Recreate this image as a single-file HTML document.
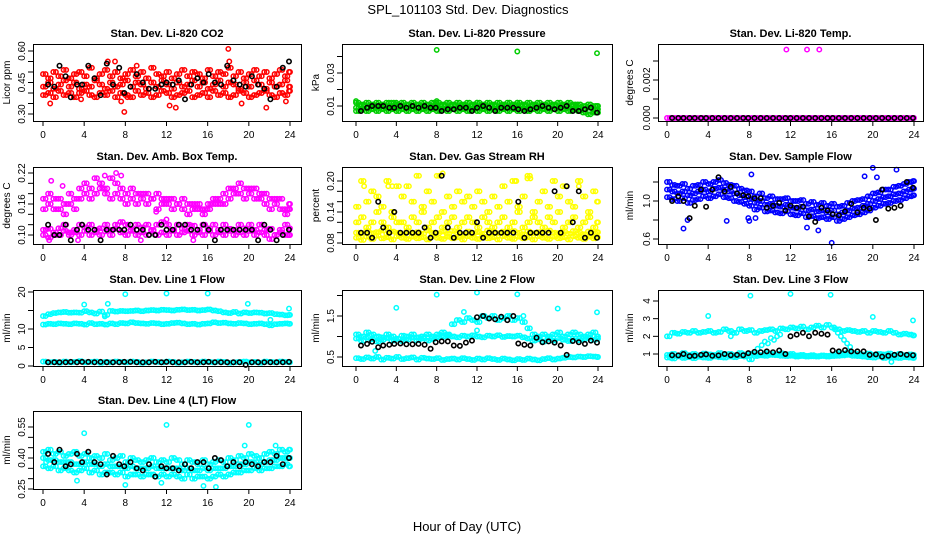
<!DOCTYPE html>
<html><head><meta charset="utf-8">
<style>
html,body{margin:0;padding:0;background:#fff;}
svg{display:block;font-family:"Liberation Sans",Arial,sans-serif;}
</style></head>
<body>
<svg id="chart" width="936" height="540" viewBox="0 0 936 540" xmlns="http://www.w3.org/2000/svg">
<rect width="936" height="540" fill="#fff"/>
<text x="468" y="14" font-size="13" text-anchor="middle">SPL_101103  Std. Dev. Diagnostics</text>
<text x="467" y="531" font-size="13" text-anchor="middle">Hour of Day (UTC)</text>
<g id="panels"></g>
</svg>
<script>
// ---- shared hour categories ----
const hoursMain = [0,0.5,1,1.5,2,2.5,3,3.5,4,4.5,5,5.5,6,6.5,7,7.5,8,8.5,9,9.5,10,10.5,11,11.5,12,12.5,13,13.5,14,14.5,15,15.5,16,16.5,17,17.5,18,18.5,19,19.5,20,20.5,21,21.5,22,22.5,23,23.5,24];
const hoursOffset = [0.25,0.75,1.25,1.75,2.25,2.75,3.25,3.75,4.25,4.75,5.25,5.75,6.25,6.75,7.25,7.75,8.25,8.75,9.25,9.75,10.25,10.75,11.25,11.75,12.25,12.75,13.25,13.75,14.25,14.75,15.25,15.75,16.25,16.75,17.25,17.75,18.25,18.75,19.25,19.75,20.25,20.75,21.25,21.75,22.25,22.75,23.25,23.75,23.9];
const hoursBlack = [0.5,1.1,1.6,2.2,2.7,3.3,3.8,4.4,5.0,5.6,6.2,6.8,7.4,7.9,8.5,9.1,9.7,10.3,10.9,11.5,12.0,12.6,13.2,13.8,14.4,15.0,15.6,16.1,16.7,17.3,17.9,18.5,19.1,19.7,20.3,20.9,21.5,22.1,22.7,23.3,23.9];
const xTickLabels = ["0","4","8","12","16","20","24"];

// ---- Panel 1: Li-820 CO2 ----
const co2Upper = [0.49,0.47,0.50,0.48,0.51,0.47,0.49,0.50,0.48,0.52,0.47,0.49,0.51,0.48,0.50,0.47,0.49,0.51,0.48,0.50,0.47,0.52,0.49,0.48,0.50,0.47,0.49,0.51,0.48,0.50,0.49,0.47,0.51,0.48,0.50,0.49,0.52,0.48,0.50,0.47,0.49,0.51,0.48,0.50,0.47,0.49,0.51,0.48,0.50];
const co2Mid = [0.43,0.45,0.42,0.44,0.46,0.43,0.45,0.42,0.44,0.43,0.46,0.44,0.42,0.45,0.43,0.44,0.46,0.43,0.45,0.44,0.42,0.45,0.43,0.46,0.44,0.42,0.45,0.43,0.44,0.46,0.43,0.45,0.42,0.44,0.46,0.43,0.45,0.44,0.42,0.45,0.43,0.46,0.44,0.42,0.45,0.43,0.44,0.46,0.43];
const co2Lower = [0.39,0.40,0.38,0.41,0.39,0.40,0.38,0.40,0.41,0.39,0.38,0.40,0.39,0.41,0.38,0.40,0.39,0.38,0.41,0.39,0.40,0.38,0.39,0.41,0.40,0.38,0.39,0.40,0.41,0.38,0.39,0.40,0.38,0.41,0.39,0.40,0.38,0.39,0.41,0.40,0.38,0.39,0.40,0.41,0.39,0.38,0.40,0.39,0.41];
const co2OutHours = [0.7,3.7,7.6,7.9,8.2,12.3,12.9,18.0,18.1,19.3,21.7,23.6,6.3,7.0,9.1];
const co2OutValues = [0.35,0.37,0.36,0.31,0.38,0.34,0.33,0.61,0.55,0.35,0.33,0.36,0.55,0.55,0.53];
const co2Black = [0.44,0.43,0.53,0.48,0.38,0.44,0.44,0.53,0.47,0.39,0.54,0.44,0.52,0.40,0.43,0.49,0.45,0.42,0.42,0.44,0.45,0.44,0.46,0.37,0.44,0.47,0.45,0.49,0.45,0.44,0.53,0.46,0.44,0.43,0.48,0.44,0.42,0.37,0.43,0.52,0.55];

// ---- Panel 2: Li-820 Pressure ----
const presUpper = [0.012,0.011,0.012,0.011,0.012,0.011,0.012,0.012,0.011,0.012,0.011,0.012,0.011,0.012,0.011,0.012,0.012,0.011,0.012,0.011,0.012,0.011,0.012,0.011,0.012,0.011,0.012,0.011,0.012,0.011,0.012,0.011,0.012,0.011,0.012,0.011,0.012,0.011,0.012,0.011,0.012,0.011,0.012,0.011,0.011,0.010,0.011,0.010,0.010];
const presMid = [0.009,0.010,0.009,0.010,0.009,0.010,0.009,0.010,0.009,0.010,0.009,0.010,0.009,0.010,0.009,0.010,0.009,0.010,0.009,0.010,0.009,0.010,0.009,0.010,0.009,0.010,0.009,0.010,0.009,0.010,0.009,0.010,0.009,0.010,0.009,0.010,0.009,0.010,0.009,0.010,0.009,0.010,0.009,0.010,0.009,0.008,0.009,0.008,0.008];
const presLower = [0.007,0.008,0.007,0.008,0.007,0.008,0.007,0.008,0.007,0.008,0.007,0.008,0.007,0.008,0.007,0.008,0.007,0.008,0.007,0.008,0.007,0.008,0.007,0.008,0.007,0.008,0.007,0.008,0.007,0.008,0.007,0.008,0.007,0.008,0.007,0.008,0.007,0.008,0.007,0.008,0.007,0.008,0.007,0.008,0.007,0.006,0.005,0.006,0.006];
const presOutHours = [8.0,16.0,23.9,0.0,8.0,4.0,12.0,16.0];
const presOutValues = [0.044,0.043,0.042,0.013,0.013,0.012,0.012,0.012];
const presBlack = [0.007,0.009,0.010,0.010,0.010,0.009,0.009,0.010,0.009,0.010,0.009,0.010,0.009,0.009,0.007,0.008,0.008,0.009,0.009,0.007,0.009,0.010,0.009,0.007,0.009,0.009,0.009,0.008,0.007,0.008,0.009,0.010,0.009,0.008,0.009,0.010,0.007,0.007,0.008,0.009,0.006];

// ---- Panel 3: Li-820 Temp ----
const tempRow = [0,0,0,0,0,0,0,0,0,0,0,0,0,0,0,0,0,0,0,0,0,0,0,0,0,0,0,0,0,0,0,0,0,0,0,0,0,0,0,0,0,0,0,0,0,0,0,0,0];
const tempOutHours = [11.6,13.6,14.8];
const tempOutValues = [0.0036,0.0036,0.0036];
const tempBlack = [0,0,0,0,0,0,0,0,0,0,0,0,0,0,0,0,0,0,0,0,0,0,0,0,0,0,0,0,0,0,0,0,0,0,0,0,0,0,0,0,0];

// ---- Panel 4: Amb. Box Temp ----
const boxUpper = [0.15,0.18,0.17,0.15,0.16,0.18,0.17,0.19,0.20,0.19,0.21,0.20,0.19,0.21,0.20,0.19,0.18,0.19,0.18,0.17,0.18,0.17,0.18,0.17,0.16,0.17,0.16,0.17,0.16,0.15,0.16,0.15,0.16,0.17,0.16,0.18,0.19,0.18,0.20,0.19,0.18,0.19,0.17,0.18,0.17,0.16,0.17,0.15,0.16];
const boxUpper2 = [0.17,0.16,0.15,0.17,0.14,0.16,0.15,0.17,0.18,0.17,0.18,0.19,0.18,0.17,0.18,0.17,0.16,0.17,0.16,0.18,0.16,0.17,0.15,0.16,0.17,0.15,0.16,0.15,0.14,0.16,0.15,0.14,0.15,0.16,0.17,0.16,0.17,0.19,0.18,0.17,0.19,0.17,0.18,0.16,0.15,0.17,0.15,0.14,0.15];
const boxLower = [0.11,0.112,0.10,0.113,0.12,0.105,0.11,0.12,0.115,0.12,0.11,0.113,0.12,0.11,0.12,0.125,0.12,0.11,0.12,0.115,0.12,0.11,0.12,0.125,0.12,0.11,0.12,0.112,0.12,0.118,0.11,0.12,0.113,0.12,0.11,0.12,0.112,0.11,0.12,0.113,0.12,0.11,0.12,0.11,0.112,0.10,0.11,0.12,0.113];
const boxLower2 = [0.10,0.095,0.105,0.10,0.108,0.10,0.105,0.10,0.108,0.10,0.105,0.10,0.107,0.10,0.112,0.105,0.10,0.108,0.10,0.105,0.10,0.108,0.10,0.105,0.10,0.108,0.10,0.105,0.108,0.10,0.105,0.10,0.108,0.10,0.105,0.10,0.108,0.10,0.105,0.10,0.108,0.10,0.105,0.10,0.092,0.10,0.105,0.10,0.10];
const boxOutHours = [0.8,1.9,6.0,7.1,7.6,11.0,0.6,3.4,9.5,14.6,12.0];
const boxOutValues = [0.205,0.195,0.215,0.22,0.215,0.145,0.09,0.09,0.09,0.09,0.13];
const boxBlack = [0.12,0.10,0.10,0.12,0.09,0.11,0.12,0.11,0.11,0.09,0.11,0.11,0.11,0.11,0.12,0.11,0.11,0.10,0.10,0.12,0.11,0.11,0.12,0.12,0.11,0.11,0.12,0.11,0.09,0.11,0.11,0.11,0.11,0.11,0.11,0.09,0.12,0.11,0.09,0.10,0.11];

// ---- Panel 5: Gas Stream RH ----
const rhHigh = [0.15,0.20,0.16,0.18,0.17,0.15,0.20,0.14,0.19,0.17,0.19,0.16,0.21,0.15,0.18,0.16,0.21,0.14,0.17,0.15,0.18,0.16,0.17,0.15,0.18,0.16,0.14,0.17,0.15,0.19,0.16,0.20,0.15,0.17,0.21,0.14,0.16,0.18,0.15,0.20,0.17,0.19,0.16,0.15,0.20,0.17,0.14,0.18,0.16];
const rhMid = [0.12,0.13,0.11,0.12,0.14,0.12,0.11,0.13,0.12,0.12,0.11,0.13,0.12,0.14,0.11,0.12,0.13,0.11,0.12,0.13,0.11,0.12,0.13,0.12,0.11,0.13,0.12,0.11,0.12,0.13,0.11,0.12,0.14,0.11,0.12,0.13,0.12,0.11,0.13,0.12,0.14,0.11,0.12,0.13,0.11,0.12,0.13,0.11,0.12];
const rhLow = [0.090,0.086,0.092,0.088,0.094,0.089,0.091,0.087,0.093,0.090,0.088,0.092,0.089,0.091,0.087,0.093,0.090,0.088,0.092,0.089,0.091,0.087,0.093,0.090,0.088,0.092,0.089,0.091,0.087,0.093,0.090,0.088,0.092,0.089,0.091,0.087,0.093,0.090,0.088,0.092,0.089,0.091,0.087,0.093,0.090,0.088,0.092,0.089,0.091];
const rhLow2 = [0.100,0.098,0.103,0.099,0.101,0.104,0.098,0.102,0.100,0.097,0.103,0.099,0.101,0.098,0.104,0.100,0.099,0.102,0.098,0.103,0.100,0.097,0.102,0.099,0.101,0.098,0.104,0.100,0.099,0.102,0.098,0.103,0.100,0.097,0.102,0.099,0.101,0.098,0.104,0.100,0.099,0.102,0.098,0.103,0.100,0.097,0.102,0.099,0.101];
const rhOutHours = [8.6,0.8,3.2,3.6,15.9,17.0,17.3,22.1];
const rhOutValues = [0.215,0.19,0.19,0.19,0.20,0.205,0.205,0.19];
const rhBlack = [0.10,0.10,0.09,0.16,0.11,0.10,0.14,0.10,0.10,0.10,0.10,0.11,0.09,0.10,0.21,0.11,0.09,0.10,0.10,0.10,0.12,0.09,0.10,0.10,0.10,0.10,0.10,0.16,0.09,0.10,0.10,0.10,0.10,0.18,0.10,0.19,0.12,0.18,0.09,0.10,0.09];

// ---- Panel 6: Sample Flow ----
const flowCenter = [1.12,1.10,1.08,1.10,1.06,1.08,1.10,1.12,1.10,1.13,1.14,1.12,1.10,1.08,1.06,1.04,1.02,0.98,1.00,0.96,0.97,0.95,0.94,0.96,0.93,0.92,0.94,0.90,0.91,0.89,0.90,0.88,0.90,0.86,0.88,0.90,0.92,0.93,0.95,0.97,1.00,1.02,1.04,1.05,1.07,1.08,1.10,1.12,1.13];
const flowUpper = [1.20,1.17,1.16,1.18,1.13,1.16,1.17,1.20,1.18,1.20,1.22,1.19,1.17,1.16,1.13,1.11,1.10,1.05,1.08,1.03,1.05,1.02,1.02,1.03,1.00,1.00,1.01,0.97,0.99,0.96,0.98,0.95,0.97,0.94,0.95,0.98,1.00,1.01,1.02,1.05,1.08,1.09,1.12,1.12,1.15,1.16,1.18,1.20,1.21];
const flowLower = [1.04,1.02,1.00,1.03,0.98,1.01,1.02,1.05,1.03,1.05,1.07,1.04,1.03,1.00,0.99,0.97,0.95,0.91,0.93,0.89,0.90,0.88,0.87,0.89,0.86,0.85,0.87,0.83,0.84,0.82,0.83,0.81,0.83,0.79,0.81,0.83,0.85,0.86,0.88,0.90,0.93,0.95,0.97,0.98,1.00,1.01,1.03,1.05,1.06];
const flowOutHours = [1.6,2.0,5.8,8.0,7.9,8.6,13.6,14.7,16.0,20.0,22.3,8.2,19.2,20.4];
const flowOutValues = [0.71,0.80,0.79,0.79,0.82,0.82,0.72,0.69,0.56,1.35,1.33,1.28,1.26,1.25];
const flowBlack = [1.00,1.05,1.00,0.82,0.95,1.12,0.94,1.12,1.25,1.10,1.15,1.08,1.06,1.05,1.03,1.03,0.93,0.95,0.98,0.90,0.95,0.93,0.94,0.84,0.78,0.93,0.90,0.86,0.85,0.89,0.97,0.88,0.93,0.92,0.80,1.12,0.92,0.93,0.95,1.20,1.14];

// ---- Panel 7: Line 1 Flow ----
const l1Top = [13.5,14.0,14.3,14.5,14.6,14.4,14.5,14.4,14.8,14.5,14.2,14.7,13.8,14.9,14.7,14.9,14.8,14.9,15.0,14.8,15.0,15.1,15.0,15.2,15.1,15.0,15.2,15.3,15.1,15.2,15.0,15.1,15.3,15.0,14.8,14.5,14.3,14.6,14.2,14.5,14.3,14.5,14.4,14.2,14.3,14.0,13.9,13.7,13.8];
const l1Mid = [11.2,11.4,11.3,11.5,11.4,11.3,11.5,11.4,11.2,11.6,11.3,11.4,11.2,11.5,11.3,11.6,11.5,11.8,11.6,11.5,11.4,11.6,11.5,11.3,11.4,11.6,11.7,11.5,11.3,11.4,11.2,11.4,11.5,11.8,11.6,11.7,11.5,11.4,11.6,11.5,11.3,11.4,11.5,11.3,11.0,11.3,11.4,11.5,11.4];
const l1Low = [1.2,1.0,1.1,0.9,1.2,1.0,1.1,1.3,1.0,1.1,1.2,0.9,1.1,1.0,1.2,1.1,1.0,1.2,1.1,0.9,1.0,1.2,1.1,1.0,1.2,1.1,0.9,1.0,1.2,1.1,1.0,1.2,1.1,1.0,1.2,1.1,0.9,1.0,1.1,1.2,1.0,1.1,0.9,1.2,1.1,1.0,1.2,1.1,1.0];
const l1OutHours = [8.0,12.0,16.0,4.0,6.3,19.9,23.9,6.0,22.1];
const l1OutValues = [19.4,19.6,19.6,16.6,16.8,16.8,15.5,13.4,12.5];
const l1Black = [1.0,1.0,1.0,1.0,1.1,1.0,1.1,1.1,1.0,1.1,1.0,1.0,1.0,1.1,1.1,1.0,1.0,1.0,1.1,1.0,1.1,1.0,1.0,1.0,1.1,1.0,1.0,1.1,1.0,1.0,1.0,1.0,1.0,0.3,1.0,1.0,1.0,1.0,1.0,1.0,1.1];

// ---- Panel 8: Line 2 Flow ----
const l2RowA = [1.05,1.00,1.10,1.05,1.00,0.98,1.05,1.00,0.95,1.02,1.00,1.05,0.98,1.00,1.05,1.00,1.05,1.10,1.05,1.30,1.40,1.35,1.45,1.40,1.35,1.50,1.45,1.50,1.40,1.45,1.50,1.40,1.45,1.35,1.20,1.05,1.00,1.05,1.00,1.05,1.10,1.00,1.05,1.10,1.05,1.00,1.05,1.10,1.00];
const l2RowB = [0.95,0.90,0.97,0.93,0.88,0.92,0.96,0.90,0.94,0.89,0.93,0.97,0.91,0.95,0.90,0.94,0.98,1.00,1.02,1.00,0.98,1.02,1.00,1.03,1.00,0.98,1.02,1.00,1.03,0.99,1.01,1.00,1.02,0.98,0.95,0.90,0.93,0.88,0.94,0.90,0.96,0.92,0.89,0.95,0.91,0.94,0.97,0.92,0.95];
const l2RowC = [0.47,0.45,0.49,0.46,0.50,0.44,0.48,0.46,0.50,0.45,0.47,0.49,0.44,0.48,0.46,0.45,0.47,0.43,0.45,0.46,0.44,0.47,0.45,0.43,0.46,0.44,0.47,0.45,0.43,0.46,0.44,0.42,0.45,0.43,0.46,0.44,0.42,0.45,0.47,0.44,0.46,0.48,0.50,0.49,0.51,0.50,0.52,0.51,0.50];
const l2OutHours = [4.0,8.0,12.0,16.0,20.0,23.9,10.7,1.9,12.0,16.6];
const l2OutValues = [1.70,2.02,2.07,2.03,1.68,1.59,1.60,0.65,1.15,1.50];
const l2Black = [0.78,0.82,0.87,0.74,0.78,0.80,0.82,0.83,0.81,0.81,0.82,0.80,0.70,0.86,0.88,0.88,0.78,0.77,0.85,0.90,1.47,1.50,1.44,1.42,1.48,1.40,1.50,0.83,0.80,0.78,0.97,0.86,0.88,0.85,0.78,0.55,0.89,0.86,0.82,0.90,0.85];

// ---- Panel 9: Line 3 Flow ----
const l3Upper = [2.00,2.20,2.15,2.25,2.20,2.30,2.20,2.25,2.30,2.20,2.25,2.40,2.30,2.20,2.40,2.30,2.35,2.20,2.30,2.35,2.40,2.30,2.45,2.40,2.50,2.45,2.55,2.40,2.50,2.60,2.50,2.65,2.50,2.40,2.30,2.35,2.30,2.25,2.30,2.20,2.30,2.25,2.20,2.30,2.20,2.10,2.15,2.10,2.05];
const l3Lower = [0.95,1.00,0.90,1.05,0.95,1.00,0.92,1.02,0.98,0.95,1.05,0.97,1.00,0.93,1.05,0.98,1.02,1.00,0.95,1.05,1.00,0.97,1.03,0.98,1.00,0.92,0.95,0.90,0.93,0.88,0.92,0.90,0.95,1.05,1.00,1.10,1.05,1.00,0.98,1.02,0.95,1.00,0.97,1.02,0.95,1.00,0.93,0.97,0.95];
const l3Lower2 = [0.80,0.75,0.85,0.78,0.82,0.76,0.84,0.80,0.78,0.85,0.82,0.80,0.86,0.82,0.88,0.85,0.70,0.88,0.92,0.90,0.95,0.93,0.90,0.88,0.90,0.86,0.88,0.85,0.87,0.86,0.88,0.85,0.88,0.90,0.92,0.95,0.90,0.88,0.85,0.82,0.80,0.85,0.78,0.82,0.80,0.78,0.82,0.80,0.78];
const l3OutHours = [4.0,8.1,12.0,15.9,20.0,23.9,21.8,8.8,9.2,9.5,9.8,10.1,10.4,10.7,11.0,16.3,16.6,16.9,17.2,17.5,17.8,6.2,6.5];
const l3OutValues = [3.15,4.30,4.40,4.35,3.10,2.90,0.55,1.30,1.50,1.70,1.60,1.90,1.80,2.00,2.10,2.40,2.20,2.00,1.80,1.60,1.40,2.00,2.20];
const l3Black = [0.93,0.92,1.00,0.88,0.90,0.95,0.98,0.90,0.92,1.00,0.93,0.95,0.93,1.05,1.12,1.10,1.15,1.10,1.20,1.00,2.00,2.10,2.20,2.00,2.20,2.15,2.10,1.20,1.15,1.22,1.15,1.15,1.15,0.95,0.98,0.85,0.90,0.95,1.00,0.95,0.93];

// ---- Panel 10: Line 4 (LT) Flow ----
const l4Center = [0.40,0.39,0.39,0.38,0.38,0.38,0.37,0.37,0.38,0.37,0.37,0.36,0.37,0.36,0.36,0.36,0.35,0.36,0.35,0.35,0.35,0.36,0.35,0.35,0.35,0.35,0.35,0.34,0.35,0.34,0.34,0.35,0.34,0.35,0.35,0.35,0.36,0.36,0.37,0.37,0.38,0.38,0.37,0.38,0.39,0.39,0.40,0.40,0.40];
const l4Upper = [0.43,0.44,0.42,0.43,0.41,0.42,0.43,0.41,0.42,0.40,0.41,0.40,0.42,0.39,0.40,0.41,0.38,0.40,0.39,0.38,0.39,0.40,0.38,0.39,0.38,0.40,0.39,0.37,0.39,0.38,0.37,0.39,0.37,0.38,0.39,0.38,0.40,0.39,0.41,0.40,0.42,0.41,0.40,0.42,0.43,0.42,0.44,0.43,0.44];
const l4Lower = [0.36,0.35,0.36,0.34,0.35,0.34,0.33,0.34,0.35,0.33,0.34,0.32,0.33,0.33,0.32,0.33,0.31,0.32,0.32,0.31,0.32,0.32,0.31,0.32,0.31,0.32,0.31,0.30,0.32,0.30,0.31,0.31,0.30,0.31,0.32,0.31,0.32,0.33,0.33,0.34,0.34,0.35,0.34,0.35,0.35,0.36,0.36,0.37,0.36];
const l4OutHours = [4.0,12.0,20.0,0.3,3.3,8.0,11.5,15.6,16.8,19.6,22.6];
const l4OutValues = [0.52,0.56,0.56,0.38,0.29,0.27,0.28,0.265,0.26,0.46,0.46];
const l4Black = [0.42,0.38,0.44,0.36,0.37,0.42,0.38,0.43,0.38,0.37,0.32,0.41,0.37,0.36,0.38,0.35,0.34,0.37,0.31,0.36,0.35,0.35,0.34,0.37,0.35,0.38,0.38,0.35,0.40,0.39,0.36,0.38,0.36,0.38,0.37,0.36,0.38,0.38,0.41,0.37,0.40];

const panels = [
 {name:"co2",title:"Stan. Dev. Li-820 CO2",ylab:"Licor ppm",col:0,row:0,color:"#ff0000",ya:[0.60,51],yb:[0.30,114],ticks:[0.30,0.35,0.40,0.45,0.50,0.55,0.60],labels:["0.30","0.45","0.60"],labelVals:[0.30,0.45,0.60],rows:[co2Upper,co2Mid,co2Lower],outH:co2OutHours,outV:co2OutValues,black:co2Black},
 {name:"pressure",title:"Stan. Dev. Li-820 Pressure",ylab:"kPa",col:1,row:0,color:"#00cd00",ya:[0.03,73],yb:[0.01,106],ticks:[0.01,0.02,0.03,0.04],labels:["0.01","0.03"],labelVals:[0.01,0.03],rows:[presUpper,presMid,presLower],outH:presOutHours,outV:presOutValues,black:presBlack},
 {name:"licor-temp",title:"Stan. Dev. Li-820 Temp.",ylab:"degrees C",col:2,row:0,color:"#ff00ff",ya:[0.002,80],yb:[0,118],ticks:[0,0.001,0.002,0.003],labels:["0.000","0.002"],labelVals:[0,0.002],rows:[tempRow],outH:tempOutHours,outV:tempOutValues,black:tempBlack},
 {name:"box-temp",title:"Stan. Dev. Amb. Box Temp.",ylab:"degrees C",col:0,row:1,color:"#ff00ff",ya:[0.22,173],yb:[0.10,235],ticks:[0.10,0.12,0.14,0.16,0.18,0.20,0.22],labels:["0.10","0.16","0.22"],labelVals:[0.10,0.16,0.22],rows:[boxUpper,boxUpper2,boxLower,boxLower2],outH:boxOutHours,outV:boxOutValues,black:boxBlack},
 {name:"rh",title:"Stan. Dev. Gas Stream RH",ylab:"percent",col:1,row:1,color:"#ffff00",ya:[0.20,181],yb:[0.08,243],ticks:[0.08,0.10,0.12,0.14,0.16,0.18,0.20],labels:["0.08","0.14","0.20"],labelVals:[0.08,0.14,0.20],rows:[rhHigh,rhMid,rhLow,rhLow2],outH:rhOutHours,outV:rhOutValues,black:rhBlack},
 {name:"sample-flow",title:"Stan. Dev. Sample Flow",ylab:"ml/min",col:2,row:1,color:"#0000ff",ya:[1.0,201],yb:[0.6,239],ticks:[0.6,0.8,1.0,1.2],labels:["0.6","1.0"],labelVals:[0.6,1.0],rows:[flowUpper,flowCenter,flowLower],outH:flowOutHours,outV:flowOutValues,black:flowBlack},
 {name:"line1-flow",title:"Stan. Dev. Line 1 Flow",ylab:"ml/min",col:0,row:2,color:"#00ffff",ya:[20,292],yb:[0,366],ticks:[0,5,10,15,20],labels:["0","5","10","20"],labelVals:[0,5,10,20],rows:[l1Top,l1Mid,l1Low],outH:l1OutHours,outV:l1OutValues,black:l1Black},
 {name:"line2-flow",title:"Stan. Dev. Line 2 Flow",ylab:"ml/min",col:1,row:2,color:"#00ffff",ya:[1.5,316],yb:[0.5,357],ticks:[0.5,1.0,1.5,2.0],labels:["0.5","1.5"],labelVals:[0.5,1.5],rows:[l2RowA,l2RowB,l2RowC],outH:l2OutHours,outV:l2OutValues,black:l2Black},
 {name:"line3-flow",title:"Stan. Dev. Line 3 Flow",ylab:"ml/min",col:2,row:2,color:"#00ffff",ya:[4,301],yb:[1,354],ticks:[1,2,3,4],labels:["1","2","3","4"],labelVals:[1,2,3,4],rows:[l3Upper,l3Lower,l3Lower2],outH:l3OutHours,outV:l3OutValues,black:l3Black},
 {name:"line4-flow",title:"Stan. Dev. Line 4 (LT) Flow",ylab:"ml/min",col:0,row:3,color:"#00ffff",ya:[0.55,427],yb:[0.25,489],ticks:[0.25,0.30,0.35,0.40,0.45,0.50,0.55],labels:["0.25","0.40","0.55"],labelVals:[0.25,0.40,0.55],rows:[l4Upper,l4Center,l4Lower],outH:l4OutHours,outV:l4OutValues,black:l4Black}
];

const colBox = [[33,301],[342,612],[658,923]];
const colX = [[43,290],[356,598],[667,914]];
const rowBox = [[44,121],[167,244],[290,366],[411,489]];
const ylabX = [10,319,633];
const R = 2.2;
const NS = "http://www.w3.org/2000/svg";
const root = document.getElementById("panels");
function mk(tag, attrs, parent){
  const e = document.createElementNS(NS, tag);
  for (const k in attrs) e.setAttribute(k, attrs[k]);
  parent.appendChild(e);
  return e;
}
panels.forEach(p => {
  const g = mk("g", {}, root);
  
  
  const [bx0,bx1] = colBox[p.col], [by0,by1] = rowBox[p.row];
  const [x0,x24] = colX[p.col];
  const xs = h => x0 + (x24 - x0) * h / 24;
  const ys = v => p.ya[1] + (p.yb[1] - p.ya[1]) * (v - p.ya[0]) / (p.yb[0] - p.ya[0]);
  const cx = (bx0 + bx1) / 2;
  const t = mk("text", {x:cx, y:by0-7, "font-size":"11", "font-weight":"bold", "text-anchor":"middle"}, g);
  t.textContent = p.title;
  
  
  const yl = mk("text", {transform:`translate(${ylabX[p.col]},${(by0+by1)/2}) rotate(-90)`, "font-size":"10", "text-anchor":"middle"}, g);
  yl.textContent = p.ylab;
  
  
  // points
  const pts = mk("g", {fill:"none", stroke:p.color, "stroke-width":"1.5"}, g);
  
  
  const n = p.rows.length;
  p.rows.forEach((r, j) => {
    const r2 = p.rows[(j + 1) % n];
    for (let i = 0; i < Math.min(r.length, hoursMain.length); i++) {
      const c = mk("circle", {cx:xs(hoursMain[i]).toFixed(1), cy:ys(r[i]).toFixed(1), r:R}, pts);
      
      
    }
    for (let i = 0; i < Math.min(r2.length, hoursOffset.length); i++) {
      const c = mk("circle", {cx:xs(hoursOffset[i]).toFixed(1), cy:ys(r2[i]).toFixed(1), r:R}, pts);
      
      
    }
  });
  for (let i = 0; i < Math.min(p.outH.length, p.outV.length); i++) {
    const c = mk("circle", {cx:xs(p.outH[i]).toFixed(1), cy:ys(p.outV[i]).toFixed(1), r:R}, pts);
    
    
  }
  const bp = mk("g", {fill:"none", stroke:"#000", "stroke-width":"1.6"}, g);
  
  
  for (let i = 0; i < Math.min(p.black.length, hoursBlack.length); i++) {
    const c = mk("circle", {cx:xs(hoursBlack[i]).toFixed(1), cy:ys(p.black[i]).toFixed(1), r:R}, bp);
    
    
  }
  // box
  const b = mk("rect", {x:bx0+0.5, y:by0+0.5, width:bx1-bx0, height:by1-by0, fill:"none", stroke:"#000", "stroke-width":"1"}, g);
  
  
  // x axis
  const xa = mk("g", {stroke:"#000", "stroke-width":"1"}, g);
  
  
  mk("line", {x1:xs(0), x2:xs(24), y1:by1+0.5, y2:by1+0.5}, xa);
  xTickLabels.forEach(lab => {
    const h = parseFloat(lab), X = xs(h);
    mk("line", {x1:X, x2:X, y1:by1, y2:by1+5}, xa);
    const tx = mk("text", {x:X, y:by1+17, "font-size":"10", "text-anchor":"middle", stroke:"none"}, xa);
    tx.textContent = lab;
    
    
  });
  // y axis
  const ya = mk("g", {stroke:"#000", "stroke-width":"1"}, g);
  
  
  mk("line", {x1:bx0+0.5, x2:bx0+0.5, y1:ys(p.ticks[0]), y2:ys(p.ticks[p.ticks.length-1])}, ya);
  p.ticks.forEach(v => { const Y = ys(v); mk("line", {x1:bx0-5, x2:bx0, y1:Y, y2:Y}, ya); });
  p.labels.forEach((lab, i) => {
    const Y = ys(p.labelVals[i]);
    const tx = mk("text", {transform:`translate(${bx0-8},${Y}) rotate(-90)`, "font-size":"10", "text-anchor":"middle", stroke:"none"}, ya);
    tx.textContent = lab;
    
    
  });
});
</script>
</body></html>
